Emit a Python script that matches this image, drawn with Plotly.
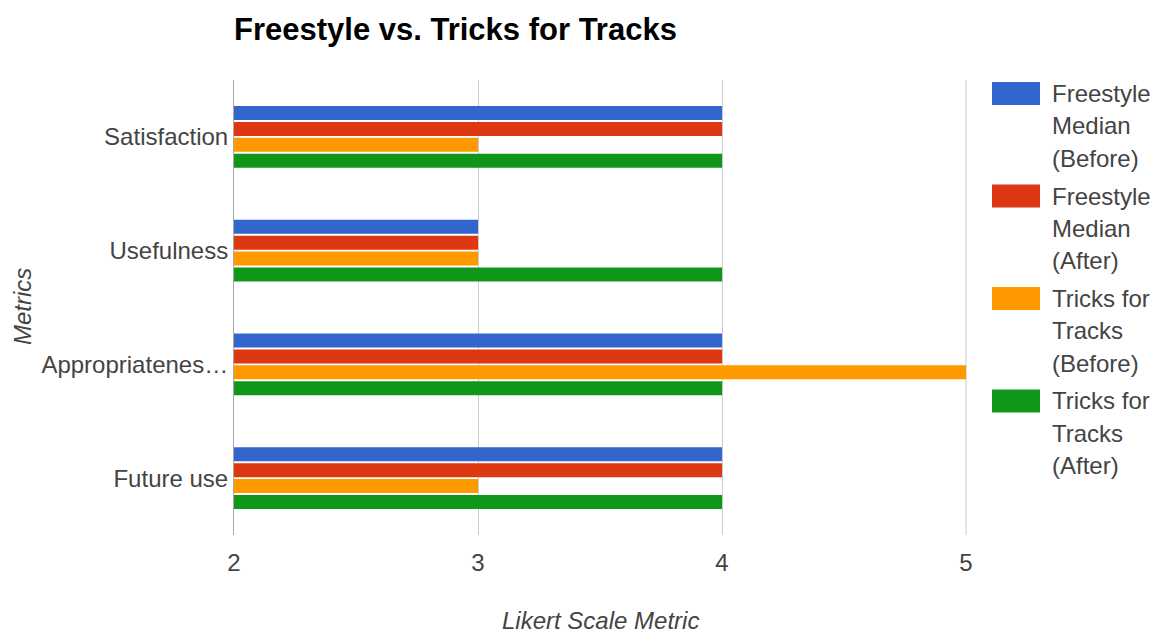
import plotly.graph_objects as go

categories = ["Satisfaction", "Usefulness", "Appropriateness", "Future use"]
category_labels = ["Satisfaction", "Usefulness", "Appropriatenes…", "Future use"]
series_names = ["Freestyle Median (Before)", "Freestyle Median (After)",
                "Tricks for Tracks (Before)", "Tricks for Tracks (After)"]
legend_lines = [["Freestyle", "Median", "(Before)"],
                ["Freestyle", "Median", "(After)"],
                ["Tricks for", "Tracks", "(Before)"],
                ["Tricks for", "Tracks", "(After)"]]
freestyle_before = [4, 3, 4, 4]
freestyle_after = [4, 3, 4, 4]
tricks_before = [3, 3, 5, 3]
tricks_after = [4, 4, 4, 4]
series_values = [freestyle_before, freestyle_after, tricks_before, tricks_after]
colors = ["#3366cc", "#dc3912", "#ff9900", "#109618"]
x_ticks = [2, 3, 4, 5]

W, H = 1155, 636
L, R, T, B = 234, 967, 80, 535
FONT = "Arial, Liberation Sans, sans-serif"
TXT = "#444444"


def px(x):
    return (x - L) / (R - L)


def py(y):
    return (B - y) / (B - T)


fig = go.Figure()
for name, vals, col in zip(series_names, series_values, colors):
    fig.add_trace(go.Bar(
        y=categories, x=vals, name=name, orientation="h",
        marker=dict(color=col, line=dict(width=0)),
        base=0, showlegend=False,
    ))

fig.update_layout(
    width=W, height=H,
    margin=dict(l=L, r=W - R, t=T, b=H - B, pad=0, autoexpand=False),
    paper_bgcolor="white", plot_bgcolor="white",
    barmode="group", bargap=0.44, bargroupgap=0.12,
    font=dict(family=FONT, size=24, color=TXT),
    title=dict(text="<b>Freestyle vs. Tricks for Tracks</b>",
               x=L / W, xanchor="left", y=1 - 29 / H, yanchor="middle",
               font=dict(family=FONT, size=31, color="#000000")),
    xaxis=dict(range=[2, 5.004], tickvals=x_ticks, showgrid=True, gridcolor="#cccccc",
               gridwidth=1, zeroline=False, showline=False, ticks="",
               ticklabelstandoff=11, automargin=False,
               tickfont=dict(size=24, color=TXT)),
    yaxis=dict(categoryorder="array", categoryarray=categories,
               tickvals=categories, ticktext=category_labels,
               autorange="reversed", showgrid=False, zeroline=False,
               showline=True, linecolor="#aaaaaa", linewidth=1, ticks="",
               ticklabelstandoff=0, automargin=False,
               tickfont=dict(size=24, color=TXT)),
)

# gridline at the last tick (plotly skips it at the plot edge)
fig.add_shape(type="line", xref="x", yref="paper", x0=x_ticks[-1], x1=x_ticks[-1],
              y0=0, y1=1, line=dict(color="#cccccc", width=1), layer="below")

# axis titles placed manually
fig.add_annotation(text="<i>Metrics</i>", xref="paper", yref="paper",
                   x=px(22), y=py(307), textangle=-90, showarrow=False,
                   xanchor="center", yanchor="middle",
                   font=dict(family=FONT, size=24, color=TXT))
fig.add_annotation(text="<i>Likert Scale Metric</i>", xref="paper", yref="paper",
                   x=px(600), y=py(620), showarrow=False,
                   xanchor="center", yanchor="middle",
                   font=dict(family=FONT, size=24, color=TXT))

# custom legend
item_centers = [93.5, 196, 298.5, 401]
line_h = 32.3
for lines, col, yc in zip(legend_lines, colors, item_centers):
    fig.add_shape(type="rect", xref="paper", yref="paper",
                  x0=px(992), x1=px(1040), y0=py(yc - 11.5), y1=py(yc + 11.5),
                  fillcolor=col, line=dict(width=0))
    for i, t in enumerate(lines):
        fig.add_annotation(text=t, xref="paper", yref="paper",
                           x=px(1050), y=py(yc + i * line_h), showarrow=False,
                           xanchor="left", yanchor="middle",
                           font=dict(family=FONT, size=24, color=TXT))

fig.write_html("out.html")
